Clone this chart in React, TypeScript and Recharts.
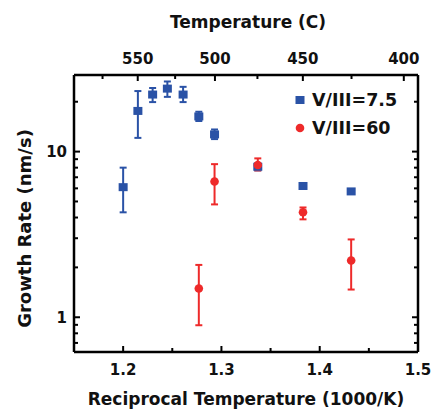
import { ScatterChart, Scatter, XAxis, YAxis, ErrorBar, Legend, Label } from 'recharts';

const FONT = '"DejaVu Sans", "Liberation Sans", sans-serif';
const BLUE = '#2a52a6';
const RED = '#ee2a2a';

// V/III = 7.5
const blueX = [1.2, 1.215, 1.23, 1.245, 1.261, 1.277, 1.293, 1.337, 1.383, 1.432];
const blueY = [6.1, 17.6, 22.1, 24.0, 22.1, 16.3, 12.7, 8.1, 6.2, 5.75];
const blueLow = [4.3, 12.1, 19.9, 21.4, 19.9, 15.3, 11.9, 7.7, 6.0, 5.6];
const blueHigh = [8.0, 23.2, 24.2, 26.5, 24.6, 17.4, 13.6, 8.5, 6.4, 5.9];

// V/III = 60
const redX = [1.277, 1.293, 1.337, 1.383, 1.432];
const redY = [1.49, 6.6, 8.3, 4.3, 2.2];
const redLow = [0.895, 4.8, 7.7, 3.9, 1.47];
const redHigh = [2.07, 8.4, 9.1, 4.6, 2.95];

// axes
const X_DOMAIN = [1.15, 1.5];
const Y_MIN = 0.617;
const Y_MAX = 29;
const bottomTicks = [1.2, 1.25, 1.3, 1.35, 1.4, 1.45, 1.5];
const bottomLabeled = [1.2, 1.3, 1.4, 1.5];
const topTemps = [575, 550, 525, 500, 475, 450, 425, 400];
const topLabeled = [550, 500, 450, 400];
const yTicks = [0.7, 0.8, 0.9, 1, 2, 3, 4, 5, 6, 7, 8, 9, 10, 20];
const yLabeled = [1, 10];

const toRecip = (t: number) => 1000 / (t + 273.15);
const toCelsius = (r: number) => Math.round(1000 / r - 273.15);
const topTicks = topTemps.map(toRecip);

const build = (xs: number[], ys: number[], lo: number[], hi: number[]) =>
  xs.map((x, i) => ({ x, y: ys[i], err: [ys[i] - lo[i], hi[i] - ys[i]] }));

const blueData = build(blueX, blueY, blueLow, blueHigh);
const redData = build(redX, redY, redLow, redHigh);

const AXIS = { stroke: '#000', strokeWidth: 2.5 };
const txt = { fontFamily: FONT, fontWeight: 'bold' as const, fill: '#111' };

const near = (list: number[], v: number) => list.some((l) => Math.abs(l - v) < 1e-6);

const BottomTick = (props: any) => {
  const { x, y, payload } = props;
  const major = near(bottomLabeled, payload.value);
  return (
    <g>
      <line x1={x} y1={y} x2={x} y2={y - (major ? 6 : 4)} stroke="#000" strokeWidth={2} />
      {major && (
        <text x={x} y={y + 23} textAnchor="middle" fontSize={15} {...txt}>
          {payload.value.toFixed(1)}
        </text>
      )}
    </g>
  );
};

const TopTick = (props: any) => {
  const { x, y, payload } = props;
  const t = toCelsius(payload.value);
  const major = topLabeled.includes(t);
  return (
    <g>
      <line x1={x} y1={y} x2={x} y2={y + (major ? 6 : 4)} stroke="#000" strokeWidth={2} />
      {major && (
        <text x={x} y={y - 11.5} textAnchor="middle" fontSize={15} {...txt}>
          {t}
        </text>
      )}
    </g>
  );
};

const LeftTick = (props: any) => {
  const { x, y, payload } = props;
  const major = near(yLabeled, payload.value);
  return (
    <g>
      <line x1={x} y1={y} x2={x + (major ? 6 : 4)} y2={y} stroke="#000" strokeWidth={2} />
      {major && (
        <text x={x - 7} y={y + 5.5} textAnchor="end" fontSize={15} {...txt}>
          {payload.value}
        </text>
      )}
    </g>
  );
};

const RightTick = (props: any) => {
  const { x, y, payload } = props;
  const major = near(yLabeled, payload.value);
  return <line x1={x} y1={y} x2={x - (major ? 6 : 4)} y2={y} stroke="#000" strokeWidth={2} />;
};

const Square = (p: any) => <rect x={p.cx - 4.5} y={p.cy - 4} width={9} height={8} fill={BLUE} />;
const Dot = (p: any) => <circle cx={p.cx} cy={p.cy} r={4.3} fill={RED} />;
const Nothing = () => <g />;

const LegendBox = () => (
  <div style={{ fontFamily: FONT, fontWeight: 'bold', fontSize: 17.5, color: '#111' }}>
    {[
      { name: 'V/III=7.5', color: BLUE, square: true },
      { name: 'V/III=60', color: RED, square: false },
    ].map((s) => (
      <div key={s.name} style={{ display: 'flex', alignItems: 'center', height: 28 }}>
        <svg width={16} height={16} style={{ marginRight: 4 }}>
          {s.square ? (
            <rect x={3.5} y={4} width={9} height={8} fill={s.color} />
          ) : (
            <circle cx={8} cy={8} r={4.3} fill={s.color} />
          )}
        </svg>
        <span>{s.name}</span>
      </div>
    ))}
  </div>
);

export default function App() {
  return (
    <div style={{ position: 'absolute', left: 0, top: 0, background: '#fff' }}>
      <ScatterChart width={432} height={410} margin={{ top: 0, right: 0, bottom: 0, left: 0 }}>
        <XAxis
          xAxisId="bottom"
          orientation="bottom"
          type="number"
          dataKey="x"
          scale="linear"
          domain={X_DOMAIN}
          allowDataOverflow
          ticks={bottomTicks}
          interval={0}
          tickSize={0}
          tickMargin={0}
          tickLine={false}
          tick={<BottomTick />}
          axisLine={AXIS}
          height={58}
        >
          <Label
            content={(p: any) => {
              const vb = p.viewBox;
              return (
                <text x={vb.x + vb.width / 2} y={vb.y + vb.height - 5} textAnchor="middle" fontSize={17} {...txt}>
                  Reciprocal Temperature (1000/K)
                </text>
              );
            }}
          />
        </XAxis>
        <XAxis
          xAxisId="top"
          orientation="top"
          type="number"
          dataKey="x"
          scale="linear"
          domain={X_DOMAIN}
          allowDataOverflow
          ticks={topTicks}
          interval={0}
          tickSize={0}
          tickMargin={0}
          tickLine={false}
          tick={<TopTick />}
          axisLine={AXIS}
          height={75}
        >
          <Label
            content={(p: any) => {
              const vb = p.viewBox;
              return (
                <text x={vb.x + vb.width / 2 + 2} y={vb.y + 27.5} textAnchor="middle" fontSize={17} {...txt}>
                  Temperature (C)
                </text>
              );
            }}
          />
        </XAxis>
        <YAxis
          yAxisId="left"
          orientation="left"
          type="number"
          dataKey="y"
          scale="log"
          domain={[Y_MIN, Y_MAX]}
          allowDataOverflow
          ticks={yTicks}
          interval={0}
          tickSize={0}
          tickMargin={0}
          tickLine={false}
          tick={<LeftTick />}
          axisLine={AXIS}
          width={74}
        >
          <Label
            content={(p: any) => {
              const vb = p.viewBox;
              const cx = vb.x + 24.5;
              const cy = vb.y + vb.height / 2 + 15;
              return (
                <text
                  x={cx}
                  y={cy}
                  transform={`rotate(-90 ${cx} ${cy})`}
                  textAnchor="middle"
                  dominantBaseline="central"
                  fontSize={18}
                  {...txt}
                >
                  Growth Rate (nm/s)
                </text>
              );
            }}
          />
        </YAxis>
        <YAxis
          yAxisId="right"
          orientation="right"
          type="number"
          scale="log"
          domain={[Y_MIN, Y_MAX]}
          allowDataOverflow
          ticks={yTicks}
          interval={0}
          tickSize={0}
          tickMargin={0}
          tickLine={false}
          tick={<RightTick />}
          axisLine={AXIS}
          width={14}
        />
        <Legend
          layout="vertical"
          align="center"
          verticalAlign="middle"
          content={<LegendBox />}
          wrapperStyle={{ left: 292, top: 86, width: 130 }}
        />
        {/* hidden series so the temperature axis has a scale */}
        <Scatter data={blueData} xAxisId="top" yAxisId="left" shape={Nothing} legendType="none" isAnimationActive={false} />
        <Scatter data={blueData} xAxisId="bottom" yAxisId="left" shape={Square} isAnimationActive={false}>
          <ErrorBar dataKey="err" direction="y" width={3.5} stroke={BLUE} strokeWidth={2} isAnimationActive={false} />
        </Scatter>
        <Scatter data={redData} xAxisId="bottom" yAxisId="left" shape={Dot} isAnimationActive={false}>
          <ErrorBar dataKey="err" direction="y" width={3.5} stroke={RED} strokeWidth={2} isAnimationActive={false} />
        </Scatter>
      </ScatterChart>
    </div>
  );
}
